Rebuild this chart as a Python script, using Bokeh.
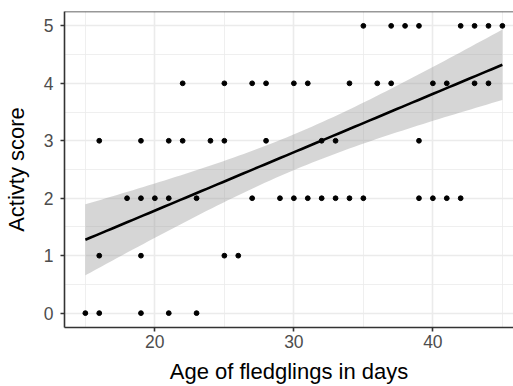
import numpy as np
from bokeh.plotting import figure
from bokeh.models import ColumnDataSource, Span, FixedTicker, Range1d
from bokeh.embed import file_html
from bokeh.resources import INLINE

# Data (age in days, activity score)
age_score0 = [15, 16, 19, 21, 23]
age_score1 = [16, 19, 25, 26]
age_score2 = [18, 19, 20, 21, 23, 27, 29, 30, 31, 32, 33, 34, 35, 39, 40, 41, 42]
age_score3 = [16, 19, 21, 22, 24, 25, 28, 32, 33, 39]
age_score4 = [22, 25, 27, 28, 30, 31, 34, 36, 37, 40, 41, 43, 44]
age_score5 = [35, 37, 38, 39, 42, 43, 44, 45]

x_ticks = [20, 30, 40]
y_ticks = [0, 1, 2, 3, 4, 5]

groups = [age_score0, age_score1, age_score2, age_score3, age_score4, age_score5]
ages = np.array([a for g in groups for a in g], dtype=float)
scores = np.array([s for s, g in enumerate(groups) for _ in g], dtype=float)

# Linear model with 95% confidence band
n = len(ages)
xm = ages.mean()
sxx = ((ages - xm) ** 2).sum()
slope = ((ages - xm) * (scores - scores.mean())).sum() / sxx
intercept = scores.mean() - slope * xm
resid = scores - (intercept + slope * ages)
s = np.sqrt((resid ** 2).sum() / (n - 2))
t = 2.004  # t quantile, df = 55
xs = np.linspace(ages.min(), ages.max(), 80)
fit = intercept + slope * xs
se = s * np.sqrt(1.0 / n + (xs - xm) ** 2 / sxx)
upper = fit + t * se
lower = fit - t * se

p = figure(frame_width=449, frame_height=316, output_backend="svg", toolbar_location=None,
           x_range=Range1d(13.5, 45.8), y_range=Range1d(-0.25, 5.25),
           min_border_left=64, min_border_right=0, min_border_top=11, min_border_bottom=59,
           background_fill_color="white", border_fill_color="white")
p.outline_line_color = None

grid_c = "#EBEBEB"
p.xgrid.ticker = FixedTicker(ticks=x_ticks, minor_ticks=[15, 25, 35, 45])
p.ygrid.ticker = FixedTicker(ticks=y_ticks, minor_ticks=[0.5, 1.5, 2.5, 3.5, 4.5])
for g in (p.xgrid, p.ygrid):
    g.grid_line_color = grid_c
    g.grid_line_width = 1.6
    g.minor_grid_line_color = grid_c
    g.minor_grid_line_width = 0.8

p.varea(x=xs, y1=lower, y2=upper, fill_color="#999999", fill_alpha=0.4)
p.line(xs, fit, line_color="black", line_width=2.6)
p.scatter(ages, scores, size=4.8, color="black")

for ax in (p.xaxis[0], p.yaxis[0]):
    ax.axis_line_color = "#333333"
    ax.axis_line_width = 1.6
    ax.major_tick_line_color = "#333333"
    ax.major_tick_line_width = 1.6
    ax.major_tick_in = 0
    ax.major_tick_out = 4
    ax.minor_tick_line_color = None
    ax.major_label_text_color = "#4D4D4D"
    ax.major_label_text_font = "Liberation Sans"
    ax.major_label_text_font_size = "17.5px"
    ax.axis_label_text_font = "Liberation Sans"
    ax.axis_label_text_font_size = "22px"
    ax.axis_label_text_font_style = "normal"
    ax.axis_label_text_color = "black"

p.xaxis.ticker = FixedTicker(ticks=x_ticks)
p.yaxis.ticker = FixedTicker(ticks=y_ticks)
p.xaxis.axis_label = "Age of fledglings in days"
p.yaxis.axis_label = "Activty score"
p.xaxis.major_label_standoff = 3
p.xaxis.axis_label_standoff = 8
p.yaxis.major_label_standoff = 7
p.yaxis.axis_label_standoff = 12

p.add_layout(Span(location=5.25, dimension="width", line_color="#333333", line_width=1.6))

open("out.html", "w").write(file_html(p, INLINE))
